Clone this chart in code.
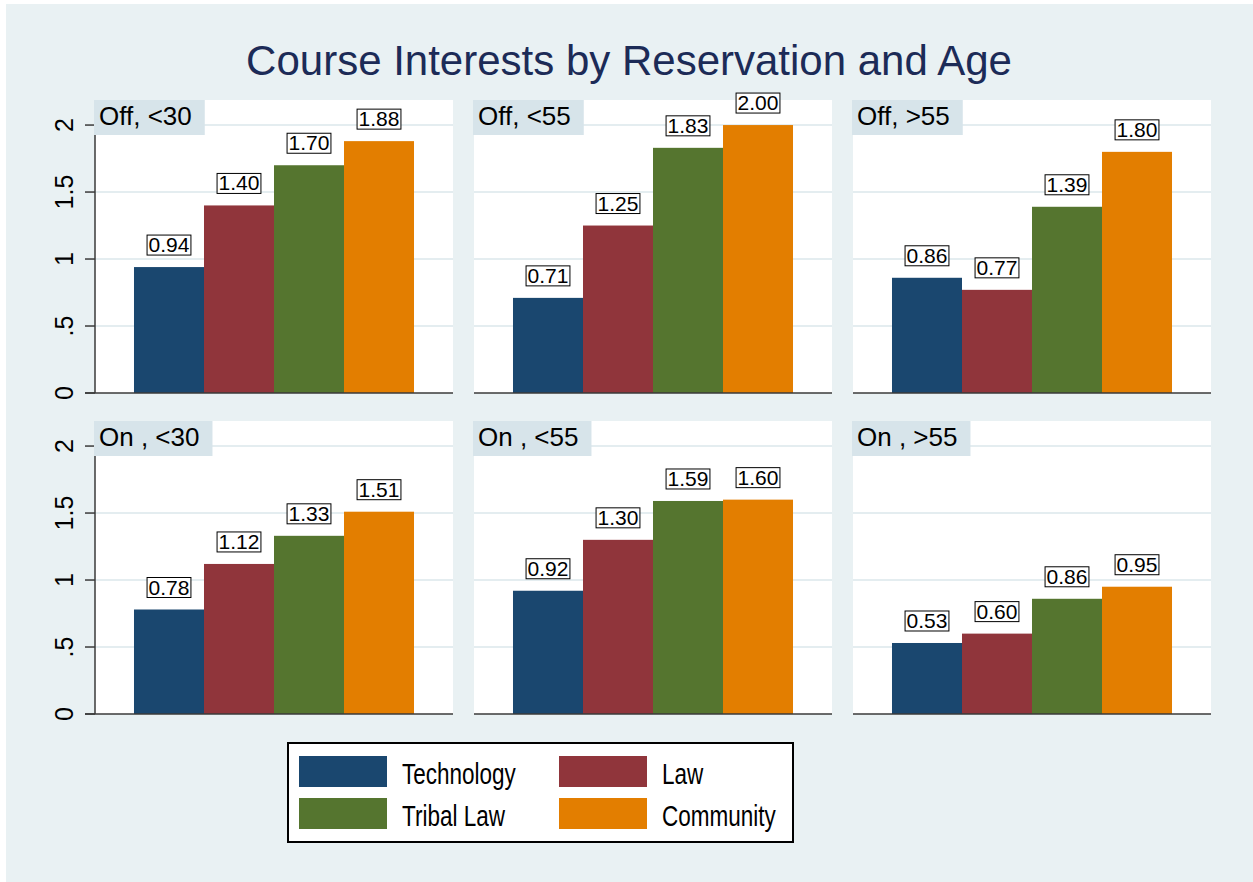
<!DOCTYPE html>
<html>
<head>
<meta charset="utf-8">
<script src="https://cdn.jsdelivr.net/npm/d3@7"></script>
<style>
  body { margin: 0; background: #ffffff; }
  text { font-family: "Liberation Sans", Arial, sans-serif; }
</style>
</head>
<body>
<div id="chart"></div>
<script>
// Data
const courses = ["Technology", "Law", "Tribal Law", "Community"];
const panelLabels = ["Off, <30", "Off, <55", "Off, >55", "On , <30", "On , <55", "On , >55"];
const offUnder30 = [0.94, 1.40, 1.70, 1.88];
const offUnder55 = [0.71, 1.25, 1.83, 2.00];
const offOver55 = [0.86, 0.77, 1.39, 1.80];
const onUnder30 = [0.78, 1.12, 1.33, 1.51];
const onUnder55 = [0.92, 1.30, 1.59, 1.60];
const onOver55 = [0.53, 0.60, 0.86, 0.95];
const panelValues = [offUnder30, offUnder55, offOver55, onUnder30, onUnder55, onOver55];
const yTicks = [0, 0.5, 1, 1.5, 2];
const yTickLabels = ["0", ".5", "1", "1.5", "2"];

// Dimensions
const width = 1253;
const height = 882;
const panelWidth = 358;
const panelHeight = 293;
const colX = [95, 474, 853];
const rowY = [100, 421];

// Colors
const color = d3
  .scaleOrdinal()
  .domain(courses)
  .range(["#1a476f", "#90353b", "#55752f", "#e37e00"]);

const svg = d3
  .select("#chart")
  .append("svg")
  .attr("width", width)
  .attr("height", height);

// Graph background
svg
  .append("rect")
  .attr("x", 6)
  .attr("y", 4)
  .attr("width", width - 6)
  .attr("height", height - 4)
  .attr("fill", "#e9f1f3");

// Title
svg
  .append("text")
  .attr("x", 629)
  .attr("y", 75)
  .attr("text-anchor", "middle")
  .style("font-size", "42px")
  .style("fill", "#1c2b57")
  .text("Course Interests by Reservation and Age");

// Scales shared by all panels
const xScale = d3
  .scaleBand()
  .domain(courses)
  .range([0, panelWidth])
  .paddingInner(0)
  .paddingOuter(0.557);

const yScale = d3
  .scaleLinear()
  .domain([0, 2.187])
  .range([panelHeight, 0]);

panelValues.forEach((values, i) => {
  const col = i % 3;
  const row = Math.floor(i / 3);
  const g = svg
    .append("g")
    .attr("transform", `translate(${colX[col]}, ${rowY[row]})`);

  // Plot region
  g.append("rect")
    .attr("width", panelWidth)
    .attr("height", panelHeight)
    .attr("fill", "#ffffff");

  // Gridlines
  g.selectAll(".grid")
    .data(yTicks.slice(1))
    .enter()
    .append("line")
    .attr("x1", 0)
    .attr("x2", panelWidth)
    .attr("y1", (d) => yScale(d))
    .attr("y2", (d) => yScale(d))
    .attr("stroke", "#e4edf0")
    .attr("stroke-width", 2);

  // Bars
  g.selectAll(".bar")
    .data(values)
    .enter()
    .append("rect")
    .attr("x", (d, j) => xScale(courses[j]))
    .attr("y", (d) => yScale(d))
    .attr("width", xScale.bandwidth())
    .attr("height", (d) => panelHeight - yScale(d))
    .attr("fill", (d, j) => color(courses[j]));

  // Value labels with boxes
  values.forEach((v, j) => {
    const cx = xScale(courses[j]) + xScale.bandwidth() / 2;
    const boxBottom = yScale(v) - 12;
    const t = g
      .append("text")
      .attr("x", cx)
      .attr("y", boxBottom - 3)
      .attr("text-anchor", "middle")
      .style("font-size", "21px")
      .style("fill", "#000")
      .text(v.toFixed(2));
    const tw = t.node().getComputedTextLength();
    g.insert("rect", () => t.node())
      .attr("x", cx - tw / 2 - 1.5)
      .attr("y", boxBottom - 20)
      .attr("width", tw + 3)
      .attr("height", 20)
      .attr("fill", "#ffffff")
      .attr("stroke", "#000")
      .attr("stroke-width", 1);
  });

  // Y axis only on the first column
  if (col === 0) {
    const yAxis = g.append("g");
    yAxis
      .append("line")
      .attr("x1", 0)
      .attr("x2", 0)
      .attr("y1", 0)
      .attr("y2", panelHeight)
      .attr("stroke", "#3a3a3a")
      .attr("stroke-width", 1.5);
    yAxis
      .selectAll(".tick")
      .data(yTicks)
      .enter()
      .append("line")
      .attr("x1", -10)
      .attr("x2", 0)
      .attr("y1", (d) => yScale(d))
      .attr("y2", (d) => yScale(d))
      .attr("stroke", "#3a3a3a")
      .attr("stroke-width", 1.5);
    yAxis
      .selectAll(".tick-label")
      .data(yTicks)
      .enter()
      .append("text")
      .attr("transform", (d) => `translate(-22, ${yScale(d)}) rotate(-90)`)
      .attr("text-anchor", "middle")
      .style("font-size", "25px")
      .style("fill", "#000")
      .text((d, k) => yTickLabels[k]);
  }

  // X axis line
  g.append("line")
    .attr("x1", col === 0 ? -10 : 0)
    .attr("x2", panelWidth)
    .attr("y1", panelHeight)
    .attr("y2", panelHeight)
    .attr("stroke", "#3a3a3a")
    .attr("stroke-width", 1.5);

  // Panel label strip
  const label = g
    .append("text")
    .attr("x", 4)
    .attr("y", 25)
    .style("font-size", "26px")
    .style("fill", "#000")
    .text(panelLabels[i]);
  const lw = label.node().getComputedTextLength();
  g.insert("rect", () => label.node())
    .attr("x", -1)
    .attr("y", 0)
    .attr("width", lw + 18)
    .attr("height", 35)
    .attr("fill", "#d7e4ea");
});

// Legend
const legend = svg.append("g").attr("id", "legend");

legend
  .append("rect")
  .attr("x", 288)
  .attr("y", 743)
  .attr("width", 505)
  .attr("height", 99)
  .attr("fill", "#ffffff")
  .attr("stroke", "#000")
  .attr("stroke-width", 2);

const legendItems = legend
  .selectAll(".legend-item")
  .data(courses)
  .enter()
  .append("g")
  .attr("class", "legend-item")
  .attr("transform", (d, i) => `translate(${299 + (i % 2) * 260}, ${756 + Math.floor(i / 2) * 42})`);

legendItems
  .append("rect")
  .attr("width", 88)
  .attr("height", 31)
  .attr("fill", (d) => color(d));

legendItems
  .append("text")
  .attr("transform", "translate(103, 28) scale(0.75, 1)")
  .style("font-size", "30px")
  .style("fill", "#000")
  .text((d) => d);
</script>
</body>
</html>
